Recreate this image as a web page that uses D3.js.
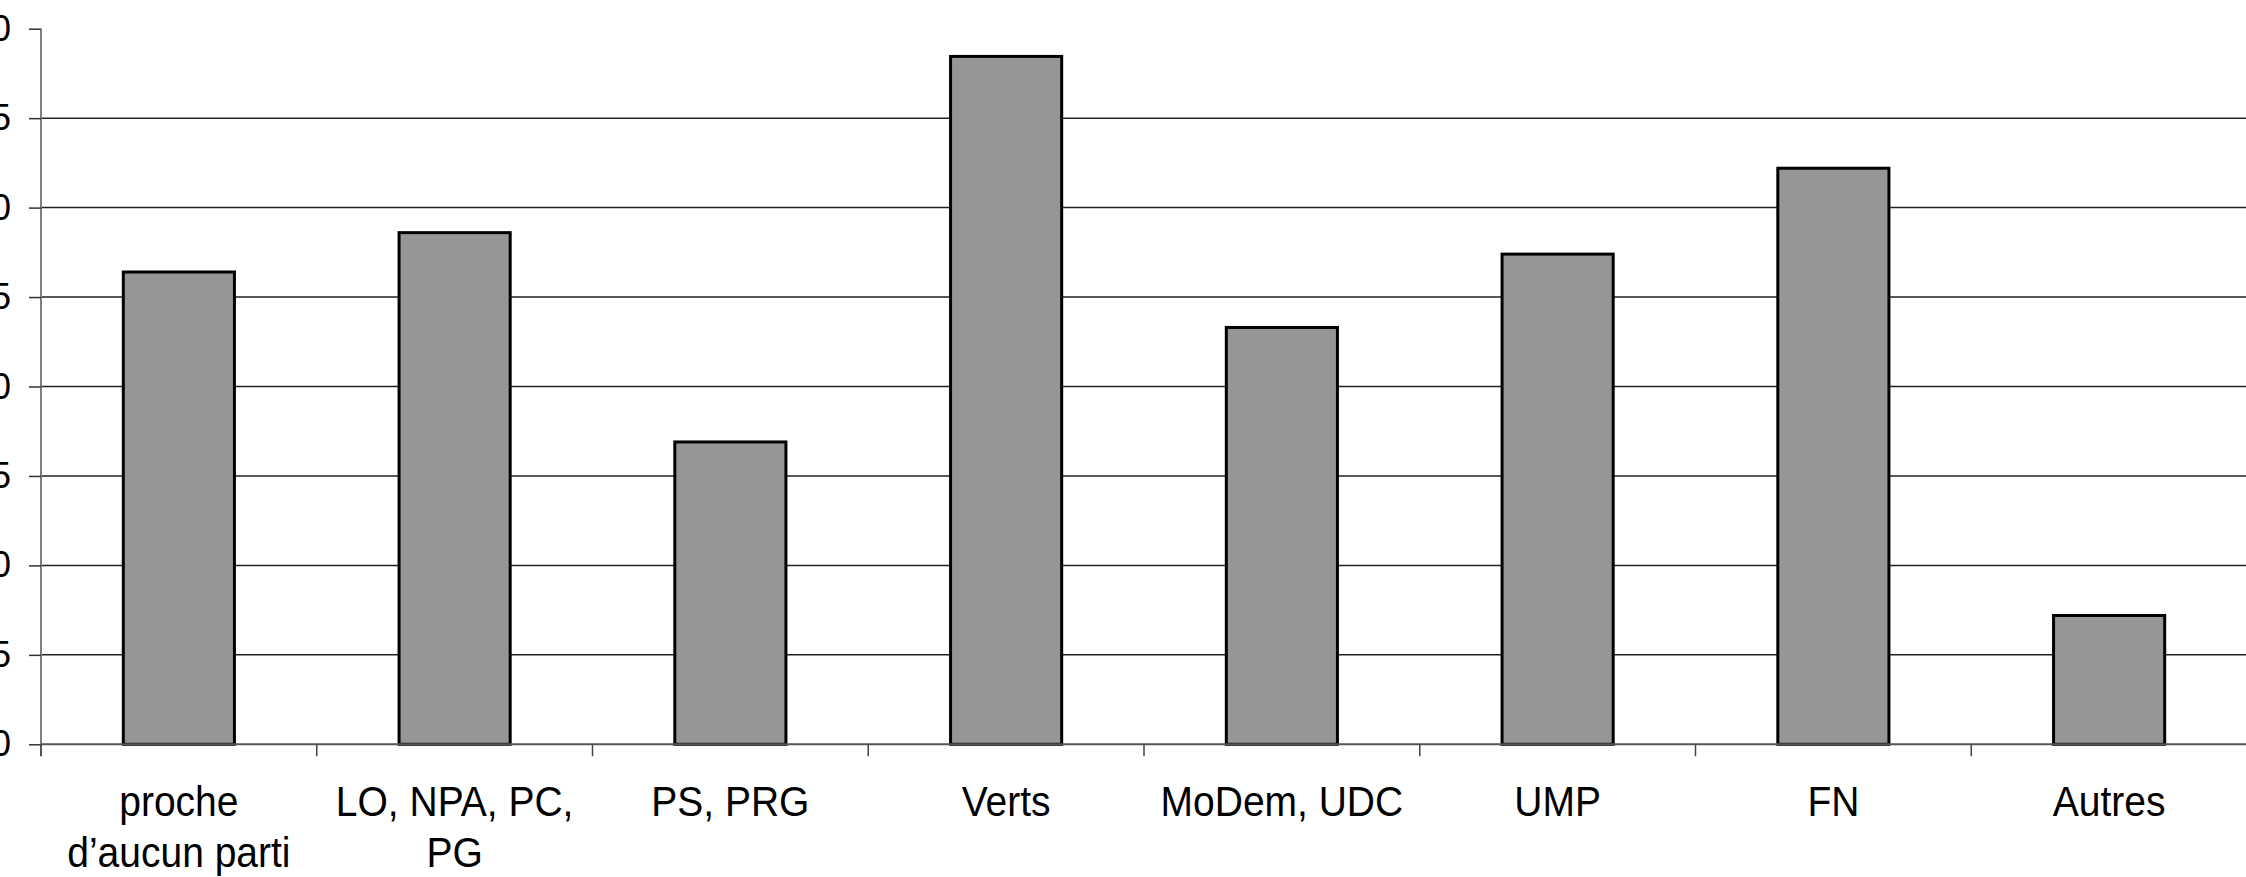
<!DOCTYPE html>
<html>
<head>
<meta charset="utf-8">
<script src="https://cdn.jsdelivr.net/npm/d3@7"></script>
<style>
  html, body { margin: 0; padding: 0; background: #fff; }
  svg { display: block; }
  text { font-family: "Liberation Sans", Arial, sans-serif; fill: #000; }
</style>
</head>
<body>
<svg id="chart" width="2246" height="877"></svg>
<script>
// ---- data ----
const categories = ["proche d’aucun parti", "LO, NPA, PC, PG", "PS, PRG", "Verts", "MoDem, UDC", "UMP", "FN", "Autres"];
const categoryLines = [["proche", "d’aucun parti"], ["LO, NPA, PC,", "PG"], ["PS, PRG"], ["Verts"], ["MoDem, UDC"], ["UMP"], ["FN"], ["Autres"]];
const values = [26.4, 28.6, 16.9, 38.45, 23.3, 27.4, 32.2, 7.2];
const yTicks = [0, 5, 10, 15, 20, 25, 30, 35, 40];

// ---- layout ----
const M = { left: 41, right: 2247, top: 28.7, bottom: 744.3 };

const svg = d3.select("#chart");

const x = d3.scaleBand().domain(categories).range([M.left, M.right]).paddingInner(0).paddingOuter(0);
const y = d3.scaleLinear().domain([0, 40]).range([M.bottom, M.top]);
const barW = x.bandwidth() * 0.403;

// gridlines (not at 0 nor at top)
svg.append("g").selectAll("line")
  .data(yTicks.filter(t => t > 0 && t < 40))
  .join("line")
  .attr("x1", M.left).attr("x2", M.right)
  .attr("y1", d => y(d)).attr("y2", d => y(d))
  .attr("stroke", "#222").attr("stroke-width", 1.5);

// y axis (labels partly clipped at the left edge, as in the original)
const yAxis = d3.axisLeft(y).tickValues(yTicks).tickSize(12).tickPadding(18).tickFormat(d3.format("d"));
const gy = svg.append("g").attr("transform", `translate(${M.left},0)`).call(yAxis);
gy.select(".domain").attr("stroke", "#808080").attr("stroke-width", 2)
  .attr("d", `M0,${M.top}V${M.bottom + 12}`);
gy.selectAll(".tick line").attr("stroke", "#333").attr("stroke-width", 1.5);
gy.selectAll(".tick text").style("font-size", "36px").attr("font-family", "Liberation Sans, Arial, sans-serif").attr("fill", "#000");

// bars
svg.append("g").selectAll("rect")
  .data(values)
  .join("rect")
  .attr("x", (d, i) => x(categories[i]) + (x.bandwidth() - barW) / 2)
  .attr("width", barW)
  .attr("y", d => y(d))
  .attr("height", d => y(0) - y(d))
  .attr("fill", "#969696")
  .attr("stroke", "#000")
  .attr("stroke-width", 3);

// x axis
const xAxis = d3.axisBottom(x).tickSize(0).tickFormat("");
const gx = svg.append("g").attr("transform", `translate(0,${M.bottom})`).call(xAxis);
gx.select(".domain").attr("stroke", "#555").attr("stroke-width", 2).attr("d", `M${M.left},0H${M.right}`);
gx.selectAll(".sep")
  .data(categories)
  .join("line")
  .attr("class", "sep")
  .attr("x1", d => x(d)).attr("x2", d => x(d))
  .attr("y1", 0).attr("y2", 12)
  .attr("stroke", "#444").attr("stroke-width", 1.5);

// category labels (slightly tall glyphs, as in the original)
const lab = svg.append("g").selectAll("text")
  .data(categories)
  .join("text")
  .attr("text-anchor", "middle")
  .style("font-size", "39px")
  .attr("transform", d => `translate(${x(d) + x.bandwidth() / 2},816) scale(1,1.08)`);
lab.each(function(d, i) {
  const t = d3.select(this);
  categoryLines[i].forEach((line, j) => {
    t.append("tspan").attr("x", 0).attr("y", j * 47).text(line);
  });
});
</script>
</body>
</html>
